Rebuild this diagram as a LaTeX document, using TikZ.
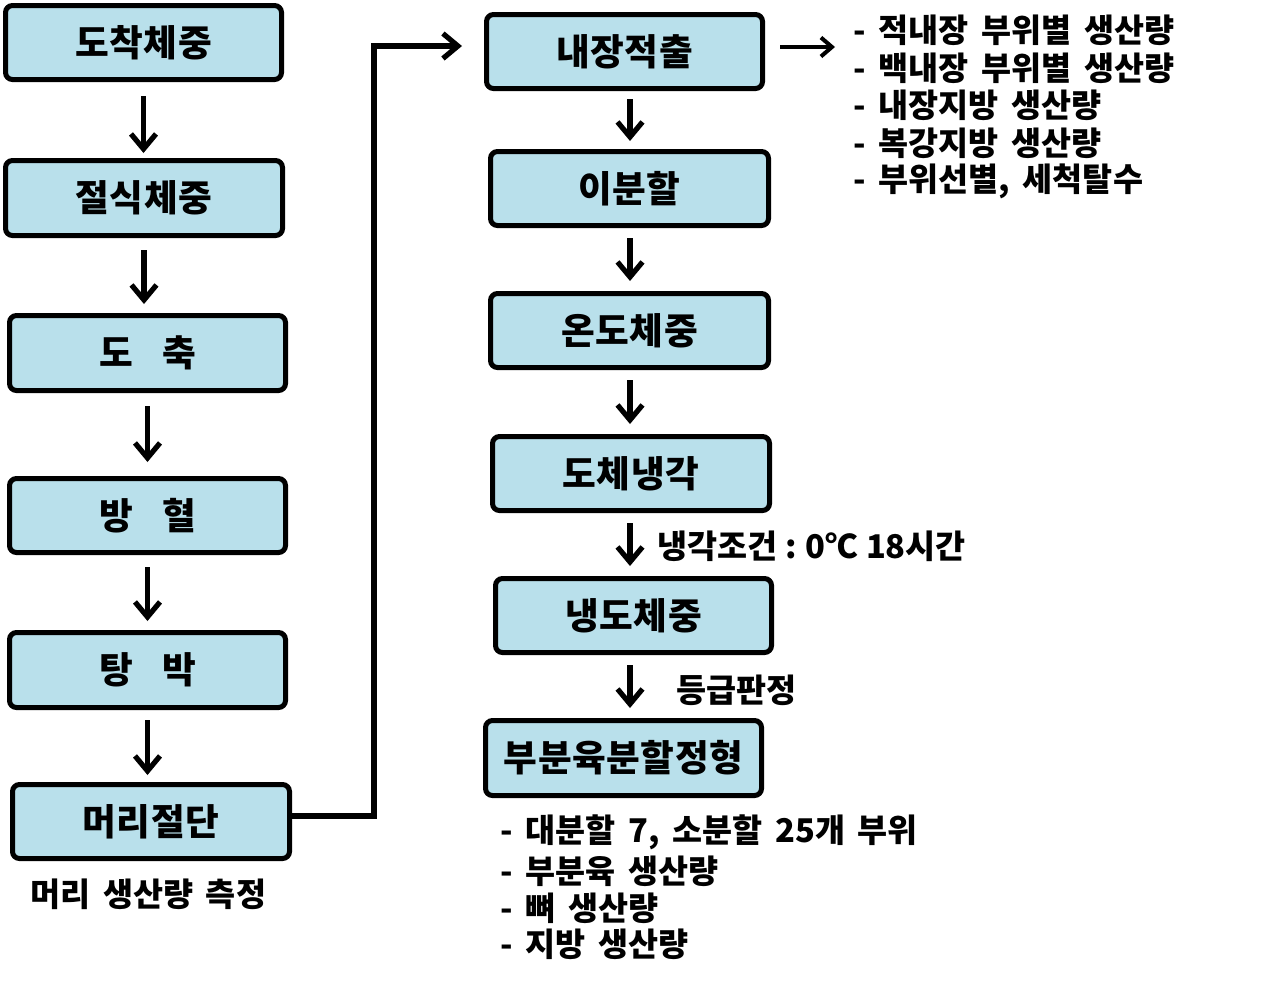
\documentclass[tikz,border=0pt]{standalone}
\usepackage{fontspec}
\setmainfont{Noto Sans CJK KR}
\newfontfamily\boxfont{Noto Sans CJK KR}[LetterSpace=1.5]
\newfontfamily\lblfont{Noto Sans CJK KR}[WordSpace=1.7]
\usetikzlibrary{arrows.meta,calc}
\def\pxu{0.75pt}
\definecolor{boxblue}{RGB}{185,224,235}
\tikzset{
  procbox/.style={draw=black, fill=boxblue, line width=5*\pxu, rounded corners=7*\pxu,
    minimum width=276*\pxu, minimum height=74*\pxu, inner sep=0pt,
    font=\boxfont\fontsize{27.5pt}{31pt}\selectfont\bfseries},
  arr/.style={line width=5.2*\pxu, -{Straight Barb[length=15*\pxu, width=25*\pxu]}},
  thinarr/.style={line width=4*\pxu, -{Straight Barb[length=11*\pxu, width=19*\pxu]}},
  lbl/.style={anchor=west, inner sep=0pt, font=\lblfont\fontsize{24.5pt}{29pt}\selectfont\bfseries},
  lshort/.style={shorten <=12*\pxu, shorten >=9*\pxu},
  rshort/.style={shorten <=10*\pxu, shorten >=10*\pxu}
}
\begin{document}
\begin{tikzpicture}[x=0.75pt, y=-0.75pt]
\useasboundingbox (0,0) rectangle (1274,983);
% left column
\node[procbox] (A1) at (143.5,42.5) {도착체중};
\node[procbox, minimum width=277*\pxu, minimum height=75*\pxu] (A2) at (144,198) {절식체중};
\node[procbox, minimum height=75*\pxu] (A3) at (147.5,353) {도\hspace{0.8em}축};
\node[procbox] (A4) at (147.5,515.5) {방\hspace{0.8em}혈};
\node[procbox, minimum height=75*\pxu] (A5) at (147.5,670) {탕\hspace{0.8em}박};
\node[procbox, minimum width=277*\pxu] (A6) at (151,821.5) {머리절단};
% right column
\node[procbox] (B1) at (624.5,51.5) {내장적출};
\node[procbox, minimum width=278*\pxu] (B2) at (629.5,188.5) {이분할};
\node[procbox, minimum width=278*\pxu] (B3) at (629.5,330.5) {온도체중};
\node[procbox, minimum width=277*\pxu] (B4) at (631,473.5) {도체냉각};
\node[procbox] (B5) at (633.5,615.5) {냉도체중};
\node[procbox, minimum height=75*\pxu] (B6) at (623.5,758) {부분육분할정형};
% left arrows
\draw[arr, shorten <=14*\pxu, shorten >=5*\pxu] (A1.south) -- (A1.south |- A2.north);
\draw[arr, lshort] (A2.south) -- (A2.south |- A3.north);
\draw[arr, shorten <=13*\pxu, shorten >=14*\pxu] (A3.south) -- (A3.south |- A4.north);
\draw[arr, lshort] (A4.south) -- (A4.south |- A5.north);
\draw[arr, shorten <=10*\pxu, shorten >=7*\pxu] (A5.south) -- (A5.south |- A6.north);
% connector to right column
\coordinate (t1) at (374,816);
\coordinate (t2) at (374,46);
\draw[arr, shorten >=22*\pxu]
  (A6.east |- t1) -- (t1) -- (t2) -- (t2 -| B1.west);
% right arrows
\coordinate (col) at (630,0);
\draw[arr, shorten <=8*\pxu, shorten >=8*\pxu] (B1.south -| col) -- (B2.north -| col);
\draw[arr, rshort] (B2.south -| col) -- (B3.north -| col);
\draw[arr, rshort] (B3.south -| col) -- (B4.north -| col);
\draw[arr, rshort] (B4.south -| col) -- (B5.north -| col);
\draw[arr, rshort] (B5.south -| col) -- (B6.north -| col);
% side arrow
\coordinate (r1) at (835,47);
\draw[thinarr, shorten <=15*\pxu] (B1.east |- r1) -- (r1);
% texts
\node[lbl] (L1) at (853,30) {- 적내장 부위별 생산량};
\node[lbl] (L2) at (853,68) {- 백내장 부위별 생산량};
\node[lbl] (L3) at (853,105) {- 내장지방 생산량};
\node[lbl] (L4) at (853,143) {- 복강지방 생산량};
\node[lbl] (L5) at (853,181) {- 부위선별, 세척탈수};
\node[lbl] (C1) at (657,546) {냉각조건\hspace{0.25em}:\hspace{0.25em}0℃\hspace{0.25em}18시간};
\node[lbl] (C2) at (676,690) {등급판정};
\node[lbl] (H1) at (30,894) {머리 생산량 측정};
\node[lbl] (P1) at (500,832) {- 대분할 7, 소분할 25개 부위};
\node[lbl] (P2) at (500,871) {- 부분육 생산량};
\node[lbl] (P3) at (500,908) {- 뼈 생산량};
\node[lbl] (P4) at (500,944) {- 지방 생산량};
\end{tikzpicture}
\end{document}
